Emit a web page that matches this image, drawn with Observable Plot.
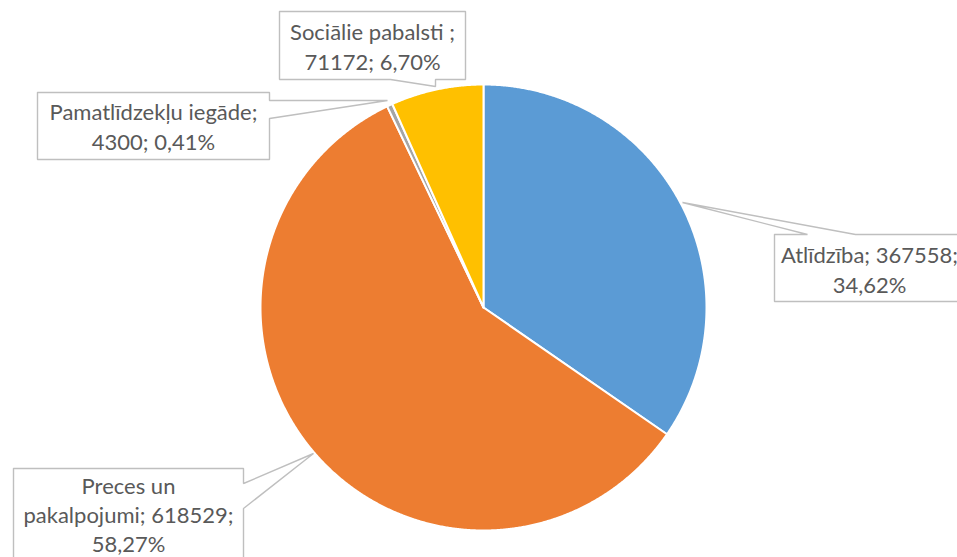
<!DOCTYPE html>
<html>
<head>
<meta charset="utf-8">
<script src="https://cdn.jsdelivr.net/npm/d3@7"></script>
<script src="https://cdn.jsdelivr.net/npm/@observablehq/plot@0.6"></script>
<style>
  html, body { margin: 0; padding: 0; background: #fff; overflow: hidden; }
  #chart { width: 957px; height: 557px; }
  #chart svg { display: block; }
</style>
</head>
<body>
<div id="chart"></div>
<script>
// ---- data ----
const categories = ["Atlīdzība", "Preces un pakalpojumi", "Pamatlīdzekļu iegāde", "Sociālie pabalsti "];
const values = [367558, 618529, 4300, 71172];
const colors = ["#5B9BD5", "#ED7D31", "#A5A5A5", "#FFC000"];

// ---- layout (pixels) ----
const W = 957, H = 557;
const CX = 483, CY = 307, R = 223;
const toX = px => (px - CX) / R;
const toY = py => (CY - py) / R;

// callout boxes: polygon outline (pixels), text center, line break style
const callouts = [
  { // Atlīdzība
    poly: [[774,234],[807,234],[682,202],[855,234],[975,234],[975,301],[774,301],[774,234]],
    tx: 869, ty: 268, lh: 30,
    fmt: (n, v, p) => `${n}; ${v};\n${p}`
  },
  { // Preces un pakalpojumi
    poly: [[13,468],[243,468],[243,483],[313,453],[243,508],[243,580],[13,580],[13,468]],
    tx: 128, ty: 513, lh: 29,
    fmt: (n, v, p) => { const w = n.split(" "); return `${w.slice(0,2).join(" ")}\n${w.slice(2).join(" ")}; ${v};\n${p}`; }
  },
  { // Pamatlīdzekļu iegāde
    poly: [[37,92],[269,92],[269,100],[387,100],[269,118],[269,159],[37,159],[37,92]],
    tx: 153, ty: 125, lh: 30,
    fmt: (n, v, p) => `${n};\n${v}; ${p}`
  },
  { // Sociālie pabalsti
    poly: [[279,11],[465,11],[465,79],[435,79],[435,86],[390,79],[279,79],[279,11]],
    tx: 372, ty: 45, lh: 30,
    fmt: (n, v, p) => `${n};\n${v}; ${p}`
  }
];

// ---- derived ----
const total = d3.sum(values);
const pct = v => (v / total * 100).toFixed(2).replace(".", ",") + "%";
const arcs = d3.pie().sort(null).value(d => d)(values);

const slicePts = [];
arcs.forEach((a, i) => {
  slicePts.push({cat: categories[i], x: 0, y: 0});
  const n = Math.max(2, Math.ceil((a.endAngle - a.startAngle) / 0.005));
  for (let k = 0; k <= n; k++) {
    const t = a.startAngle + (a.endAngle - a.startAngle) * k / n;
    slicePts.push({cat: categories[i], x: Math.sin(t), y: Math.cos(t)});
  }
  slicePts.push({cat: categories[i], x: 0, y: 0});
});

const calloutPts = [];
callouts.forEach((c, i) => c.poly.forEach(([px, py]) =>
  calloutPts.push({id: i, x: toX(px), y: toY(py)})));

const labels = categories.map((n, i) => ({
  x: toX(callouts[i].tx),
  y: toY(callouts[i].ty),
  lh: callouts[i].lh,
  text: callouts[i].fmt(n, values[i], pct(values[i]))
}));

const textMarks = labels.map(l =>
  Plot.text([l], {x: "x", y: "y", text: "text", fill: "#595959", fontSize: 22, fontFamily: "Lato", lineHeight: l.lh / 22, textAnchor: "middle"}));

const chart = Plot.plot({
  width: W, height: H,
  marginLeft: CX - R, marginRight: W - (CX + R),
  marginTop: CY - R, marginBottom: H - (CY + R),
  x: {domain: [-1, 1], axis: null},
  y: {domain: [-1, 1], axis: null},
  color: {domain: categories, range: colors},
  style: {overflow: "visible", background: "white"},
  marks: [
    Plot.line(slicePts, {x: "x", y: "y", z: "cat", fill: "cat", stroke: "white", strokeWidth: 2, strokeLinejoin: "round", curve: "linear"}),
    Plot.line(calloutPts, {x: "x", y: "y", z: "id", fill: "white", stroke: "#BFBFBF", strokeWidth: 1.4, strokeLinejoin: "miter", curve: "linear"}),
    ...textMarks
  ]
});
document.getElementById("chart").appendChild(chart);
</script>
</body>
</html>
